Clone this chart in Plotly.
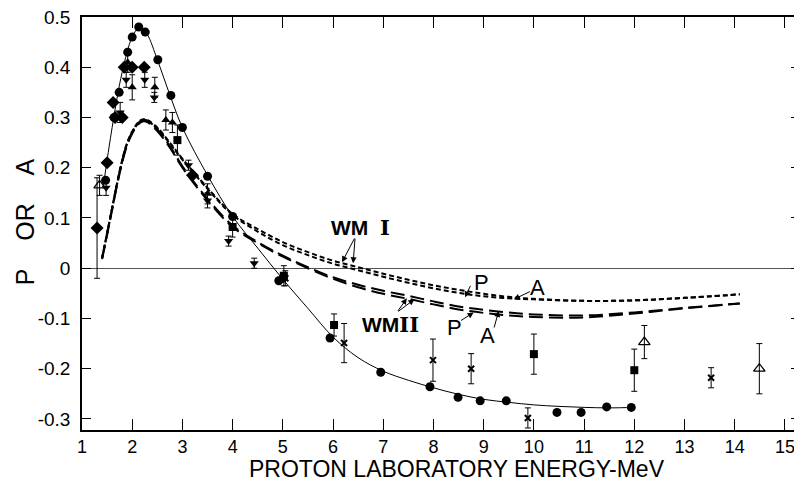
import plotly.graph_objects as go

# ---------------- data ----------------
x_ticks = [1, 2, 3, 4, 5, 6, 7, 8, 9, 10, 11, 12, 13, 14, 15]
x_ticktext = ["1", "2", "3", "4", "5", "6", "7", "8", "9", "10", "11", "12", "13", "14", "15"]
y_ticks = [0.5, 0.4, 0.3, 0.2, 0.1, 0.0, -0.1, -0.2, -0.3]
y_ticktext = ["0.5", "0.4", "0.3", "0.2", "0.1", "0", "-0.1", "-0.2", "-0.3"]

# filled circles (with smooth solid curve)
circ_x = [1.47, 1.64, 1.74, 1.91, 2.0, 2.13, 2.26, 2.51, 2.77, 3.0, 3.5, 4.0, 4.92, 5.0,
          5.94, 6.95, 7.93, 8.49, 8.93, 9.45, 10.46, 10.94, 11.45, 11.94]
circ_y = [0.175, 0.30, 0.35, 0.43, 0.46, 0.48, 0.47, 0.415, 0.344, 0.28, 0.183, 0.103, -0.025, -0.02,
          -0.139, -0.207, -0.236, -0.257, -0.264, -0.264, -0.287, -0.287, -0.276, -0.277]

fit_x = [1.42, 1.6, 1.8, 2.0, 2.15, 2.3, 2.5, 2.75, 3.0, 3.5, 4.0, 4.5, 5.0, 5.5, 6.0, 6.5,
         7.0, 7.5, 8.0, 8.5, 9.0, 9.5, 10.0, 10.5, 11.0, 11.5, 12.0]
fit_y = [0.16, 0.28, 0.39, 0.46, 0.48, 0.465, 0.415, 0.345, 0.28, 0.185, 0.103, 0.04, -0.022, -0.08,
         -0.137, -0.178, -0.205, -0.223, -0.238, -0.251, -0.261, -0.267, -0.272, -0.275, -0.277, -0.278, -0.277]

# filled diamonds
dia_x = [1.3, 1.5, 1.62, 1.66, 1.8, 1.84, 2.0, 2.24, 3.2]
dia_y = [0.08, 0.21, 0.33, 0.30, 0.30, 0.40, 0.40, 0.40, 0.185]
dia_err = [0.10, 0, 0, 0, 0, 0, 0, 0, 0]

# filled up-triangles
tri_x = [1.91, 2.0, 2.45, 2.67, 2.8, 3.5]
tri_y = [0.41, 0.36, 0.36, 0.295, 0.29, 0.148]
tri_err = [0.02, 0.025, 0.02, 0.02, 0.02, 0.02]

# filled down-triangles
dtri_x = [1.48, 1.76, 1.88, 2.25, 2.44, 3.12, 3.5, 3.92, 4.43]
dtri_y = [0.16, 0.31, 0.375, 0.375, 0.34, 0.205, 0.135, 0.054, 0.01]
dtri_err = [0.015, 0.02, 0.015, 0.015, 0.01, 0.01, 0.015, 0.01, 0.01]

# filled squares
sq_x = [2.9, 4.0, 5.02, 6.02, 10.0, 12.0]
sq_y = [0.255, 0.082, -0.015, -0.113, -0.171, -0.203]
sq_err = [0.03, 0.02, 0.02, 0.022, 0.04, 0.042]

# crosses
cr_x = [5.05, 6.22, 7.99, 8.75, 9.88, 13.53]
cr_y = [-0.02, -0.149, -0.183, -0.2, -0.298, -0.218]
cr_err = [0.015, 0.039, 0.042, 0.03, 0.02, 0.02]

# open triangles
otri_x = [1.35, 12.2, 14.49]
otri_y = [0.165, -0.147, -0.2]
otri_err = [0.02, 0.033, 0.05]

# theory curves
th_x = [1.4, 1.5, 1.6, 1.7, 1.8, 1.9, 2.0, 2.1, 2.2, 2.3, 2.5, 2.75, 3.0, 3.5, 4.0, 4.5, 5.0, 5.5,
        6.0, 6.5, 7.0, 7.5, 8.0, 8.5, 9.0, 9.5, 10.0, 11.0, 12.0, 13.0, 14.1]
wm1_p = [0.02, 0.07, 0.12, 0.17, 0.215, 0.25, 0.272, 0.288, 0.296, 0.295, 0.28, 0.25, 0.218, 0.16,
         0.108, 0.078, 0.052, 0.032, 0.015, 0.002, -0.011, -0.023, -0.034, -0.043, -0.051, -0.057,
         -0.061, -0.065, -0.064, -0.059, -0.052]
wm1_a = [0.02, 0.068, 0.118, 0.168, 0.213, 0.248, 0.27, 0.286, 0.294, 0.293, 0.278, 0.248, 0.216, 0.158,
         0.106, 0.073, 0.046, 0.026, 0.009, -0.004, -0.017, -0.029, -0.040, -0.049, -0.056, -0.060,
         -0.062, -0.065, -0.064, -0.059, -0.052]
wm2_p = [0.02, 0.07, 0.12, 0.17, 0.214, 0.249, 0.271, 0.287, 0.295, 0.294, 0.276, 0.243, 0.203, 0.138,
         0.085, 0.052, 0.025, 0.002, -0.018, -0.033, -0.045, -0.055, -0.066, -0.076, -0.083, -0.088,
         -0.092, -0.094, -0.088, -0.079, -0.07]
wm2_a = [0.018, 0.066, 0.116, 0.166, 0.21, 0.245, 0.268, 0.284, 0.292, 0.291, 0.273, 0.24, 0.2, 0.135,
         0.082, 0.05, 0.023, 0.0, -0.021, -0.038, -0.051, -0.061, -0.072, -0.082, -0.089, -0.094,
         -0.097, -0.098, -0.090, -0.080, -0.07]

# ---------------- figure ----------------
SANS = "Liberation Sans, Arial, sans-serif"
fig = go.Figure()

def err(arr, w=3):
    return dict(type="data", array=arr, visible=True, color="black", thickness=1, width=w)

# theory curves
for ys in (wm1_p, wm1_a):
    fig.add_trace(go.Scatter(x=th_x, y=ys, mode="lines", line_shape="spline",
                             line=dict(color="black", width=2, dash="5px,3px")))
for ys in (wm2_p, wm2_a):
    fig.add_trace(go.Scatter(x=th_x, y=ys, mode="lines", line_shape="spline",
                             line=dict(color="black", width=2, dash="14px,6px")))

# fitted solid line
fig.add_trace(go.Scatter(x=fit_x, y=fit_y, mode="lines", line_shape="spline",
                         line=dict(color="black", width=1)))

fig.add_trace(go.Scatter(x=circ_x, y=circ_y, mode="markers",
                         marker=dict(symbol="circle", size=9, color="black")))
fig.add_trace(go.Scatter(x=dia_x, y=dia_y, mode="markers", error_y=err(dia_err),
                         marker=dict(symbol="diamond", size=10, color="black")))
fig.add_trace(go.Scatter(x=tri_x, y=tri_y, mode="markers", error_y=err(tri_err),
                         marker=dict(symbol="triangle-up", size=8, color="black")))
fig.add_trace(go.Scatter(x=dtri_x, y=dtri_y, mode="markers", error_y=err(dtri_err),
                         marker=dict(symbol="triangle-down", size=8, color="black")))
fig.add_trace(go.Scatter(x=sq_x, y=sq_y, mode="markers", error_y=err(sq_err),
                         marker=dict(symbol="square", size=8, color="black")))
fig.add_trace(go.Scatter(x=cr_x, y=cr_y, mode="markers", error_y=err(cr_err),
                         marker=dict(symbol="x-thin-open", size=6, color="black",
                                     line=dict(width=2, color="black"))))
fig.add_trace(go.Scatter(x=otri_x, y=otri_y, mode="markers", error_y=err(otri_err),
                         marker=dict(symbol="triangle-up-open", size=10, color="black",
                                     line=dict(width=1.3, color="black"))))

ann = []
def label(text, x, y, size=22, bold=False):
    ann.append(dict(x=x, y=y, xref="x", yref="y", text=("<b>%s</b>" % text) if bold else text,
                    showarrow=False, font=dict(family=SANS, size=size, color="black")))

def arrow(x0, y0, x1, y1):
    ann.append(dict(x=x1, y=y1, ax=x0, ay=y0, xref="x", yref="y", axref="x", ayref="y", text="",
                    showarrow=True, arrowhead=2, arrowsize=1.2, arrowwidth=1, arrowcolor="black"))

label("WM\u00a0\u00a0<span style='font-family:DejaVu Serif'>I</span>", 6.55, 0.082, size=21, bold=True)
arrow(6.44, 0.062, 6.18, 0.012)
arrow(6.44, 0.062, 6.40, 0.010)
label("WM<span style='font-family:DejaVu Serif'>II</span>", 7.15, -0.113, size=21, bold=True)
arrow(7.27, -0.088, 7.47, -0.060)
arrow(7.27, -0.088, 7.62, -0.062)
label("P", 8.95, -0.028)
arrow(8.75, -0.032, 8.63, -0.058)
label("A", 10.07, -0.038)
arrow(9.95, -0.045, 9.6, -0.062)
label("P", 8.42, -0.117)
arrow(8.52, -0.106, 8.8, -0.088)
label("A", 9.08, -0.134)
arrow(9.2, -0.121, 9.3, -0.085)

# axis titles
ann.append(dict(x=0.522, y=-0.0956, xref="paper", yref="paper", showarrow=False,
                text="PROTON LABORATORY ENERGY-MeV", yanchor="middle", xanchor="center",
                font=dict(family=SANS, size=23, color="black")))
ann.append(dict(x=-0.079, y=0.504, xref="paper", yref="paper", showarrow=False,
                text="P\u00a0\u00a0\u00a0\u00a0OR\u00a0\u00a0\u00a0\u00a0A", textangle=-90,
                yanchor="middle", xanchor="center",
                font=dict(family=SANS, size=25, color="black")))

# page body has an 8px default margin: shrink figure so the plot area lands where the reference has it
fig.update_layout(
    width=794, height=474,
    margin=dict(l=74, r=2, t=9, b=52),
    paper_bgcolor="white", plot_bgcolor="white",
    showlegend=False,
    annotations=ann,
    xaxis=dict(range=[1, 15.3], tickvals=x_ticks, ticktext=x_ticktext, automargin=False,
               showline=True, linecolor="black", linewidth=1.5, mirror="allticks",
               ticks="inside", ticklen=11, tickwidth=1, tickcolor="black",
               showgrid=False, zeroline=False, ticklabelstandoff=0, ticklabeloverflow="allow",
               tickfont=dict(family=SANS, size=18, color="black")),
    yaxis=dict(range=[-0.322, 0.5], tickvals=y_ticks, ticktext=y_ticktext, automargin=False,
               showline=True, linecolor="black", linewidth=1.5, mirror="allticks",
               ticks="inside", ticklen=9, tickwidth=1, tickcolor="black",
               showgrid=False, zeroline=True, zerolinecolor="#555", zerolinewidth=1,
               ticklabelstandoff=6, ticklabeloverflow="allow",
               tickfont=dict(family=SANS, size=19, color="black")),
)

fig.write_html("out.html")
